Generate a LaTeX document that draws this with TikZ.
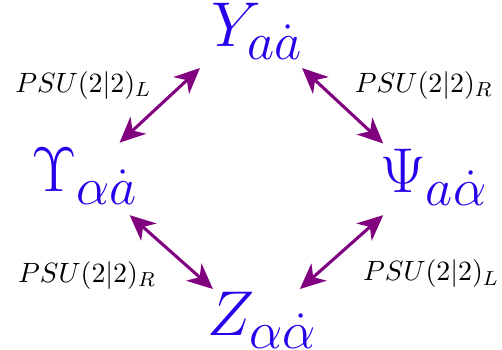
\documentclass[tikz,border=0pt]{standalone}
\usetikzlibrary{arrows.meta}
\definecolor{fieldblue}{RGB}{40,0,235}
\definecolor{linkpurple}{RGB}{128,0,128}
\tikzset{
  field/.style={text=fieldblue,font=\Huge,inner sep=0pt},
  grouplbl/.style={inner sep=0pt,font=\fontsize{10.8}{13}\selectfont},
  link/.style={linkpurple,line width=1.2pt,
    {Stealth[length=10pt,width=9pt,inset=3pt]}-{Stealth[length=10pt,width=9pt,inset=3pt]}}
}
\begin{document}
\begin{tikzpicture}[x=1cm,y=1cm]
        \useasboundingbox (0,0) rectangle (6.93,4.82);
        \node[field] (Y) at (3.55,4.39) {$Y_{a\dot a}$};
        \node[field] (U) at (1.17,2.39) {$\Upsilon_{\alpha\dot a}$};
        \node[field] (P) at (5.99,2.37) {$\Psi_{a\dot\alpha}$};
        \node[field] (Z) at (3.62,0.40) {$Z_{\alpha\dot\alpha}$};
        \draw[link] ([shift={(-0.79,-0.51)}]Y.center) -- ([shift={(0.48,0.46)}]U.center);
        \draw[link] ([shift={(0.62,-0.51)}]Y.center) -- ([shift={(-0.70,0.47)}]P.center);
        \draw[link] ([shift={(0.62,-0.54)}]U.center) -- ([shift={(-0.68,0.43)}]Z.center);
        \draw[link] ([shift={(-0.70,-0.52)}]P.center) -- ([shift={(0.52,0.43)}]Z.center);
        \node[grouplbl] (lUL) at (1.15,3.64) {$PSU(2|2)_L$};
        \node[grouplbl] (lUR) at (5.85,3.64) {$PSU(2|2)_R$};
        \node[grouplbl] (lLL) at (1.20,1.02) {$PSU(2|2)_R$};
        \node[grouplbl] (lLR) at (5.95,1.04) {$PSU(2|2)_L$};
      \end{tikzpicture}
\end{document}
